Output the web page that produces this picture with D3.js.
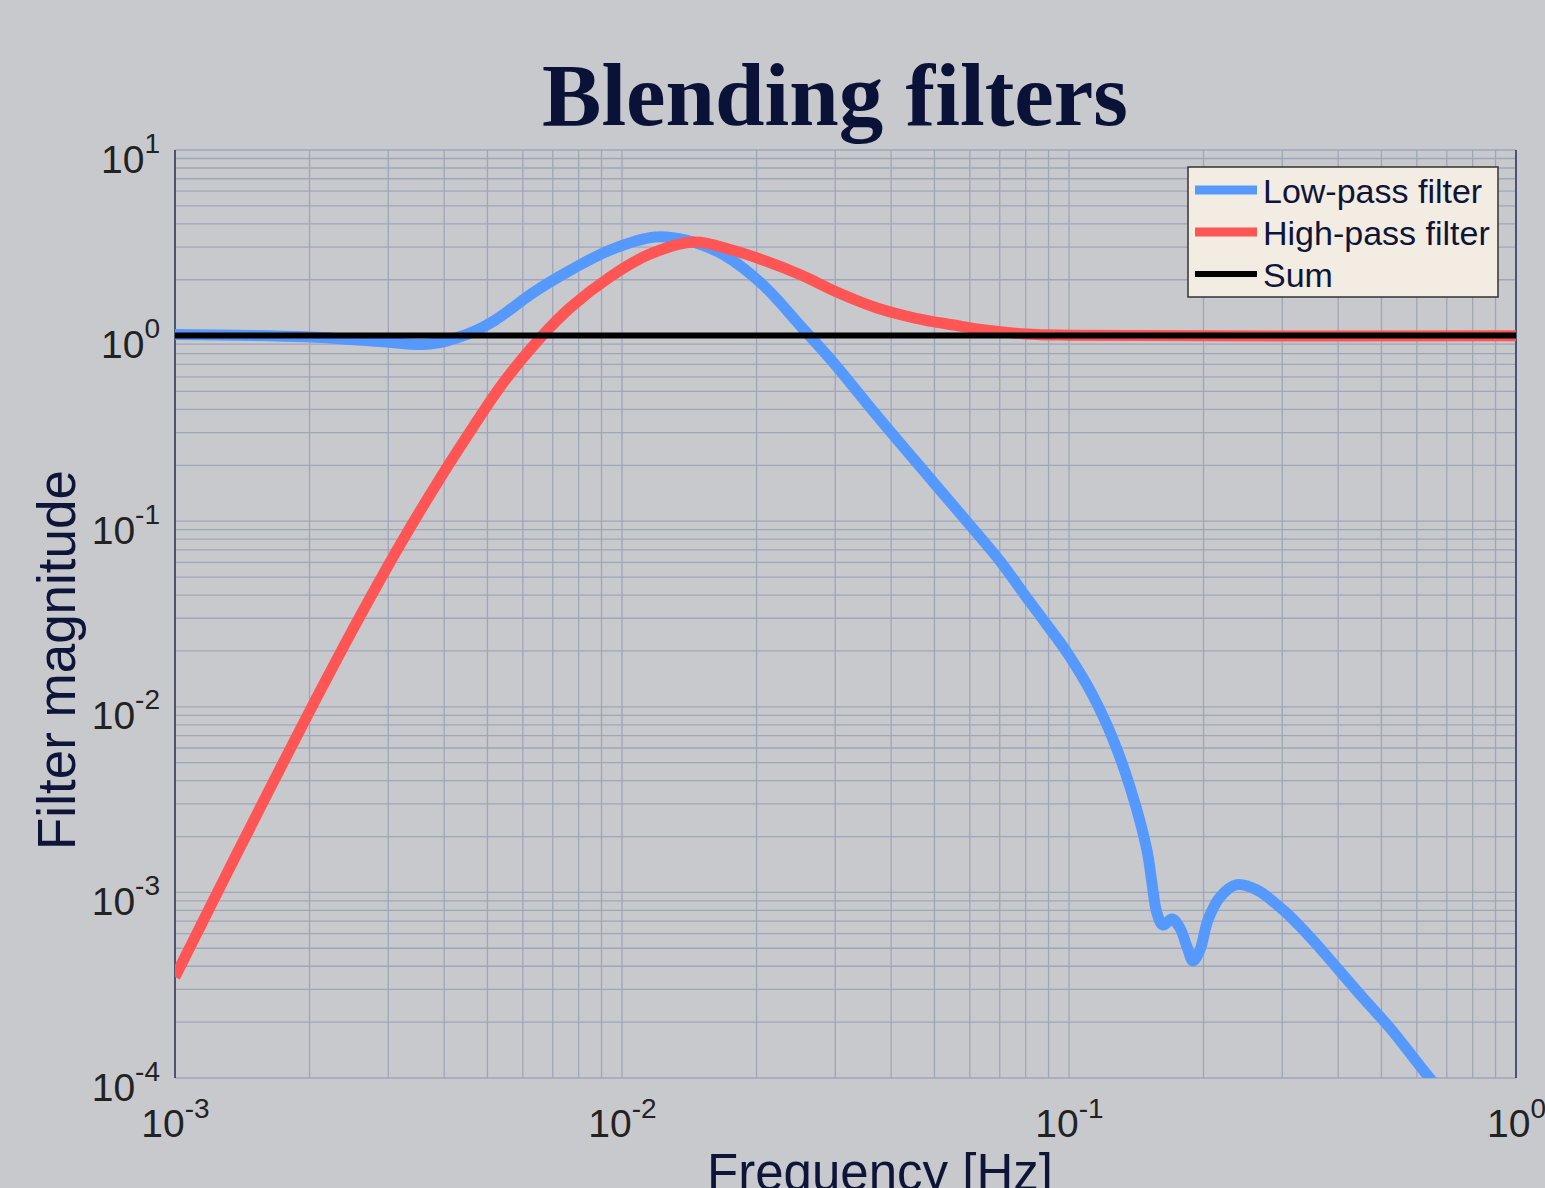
<!DOCTYPE html>
<html>
<head>
<meta charset="utf-8">
<style>
body { margin: 0; background: #c8c9cd; }
svg { display: block; }
</style>
</head>
<body>
<svg id="chart"></svg>
<script src="https://d3js.org/d3.v7.min.js"></script>
<script>
WIDTH = 1545
HEIGHT = 1188
MARGIN = {top: 150, right: 29, bottom: 110, left: 175}

// values
lowPassFreq = [0.001, 0.00196, 0.00287, 0.00372, 0.00452, 0.0052, 0.00632, 0.00769, 0.0094, 0.01186,
	0.0139, 0.0169, 0.02065, 0.02515, 0.02965, 0.0372, 0.0497, 0.06, 0.0701, 0.0805,
	0.0897, 0.0995, 0.1132, 0.1254, 0.1369, 0.1494, 0.1533, 0.1573, 0.1623,
	0.17, 0.1771, 0.1837, 0.1894, 0.1963, 0.2046, 0.2177, 0.2375, 0.2634, 0.3012,
	0.346, 0.3977, 0.4546, 0.5225, 0.6324, 0.6937]
lowPassMag = [1.015, 0.985, 0.93, 0.9, 1.02, 1.21, 1.7, 2.26, 2.89, 3.4,
	3.27, 2.72, 1.88, 1.12, 0.72, 0.37, 0.1625, 0.0954, 0.061, 0.0386,
	0.0272, 0.01925, 0.01143, 0.0067, 0.0037, 0.00169, 0.001125, 0.000774, 0.000667,
	0.000719, 0.000643, 0.000508, 0.000427, 0.000489, 0.00071, 0.000944, 0.0011, 0.00103, 0.000804,
	0.000575, 0.000392, 0.00027, 0.000186, 0.000104, 0.00008]

highPassFreq = [0.001, 0.001155, 0.001376, 0.001632, 0.001934, 0.002304, 0.00273, 0.003236, 0.003856, 0.004571,
	0.005418, 0.00659, 0.00769, 0.0094, 0.01143, 0.0145, 0.01762, 0.02065, 0.02515, 0.03058,
	0.0372, 0.04546, 0.05529, 0.0642, 0.08, 0.1, 0.2, 1]
highPassMag = [0.00035, 0.000699, 0.00162, 0.003635, 0.00809, 0.0181, 0.0385, 0.0794, 0.16, 0.303,
	0.5555, 0.983, 1.426, 2.07, 2.72, 3.19, 2.89, 2.555, 2.12, 1.696,
	1.408, 1.24, 1.14, 1.075, 1.02, 1.005, 0.997, 0.997]

sumFreq = [0.001, 1]
sumMag = [1, 1]

xDecades = [0.001, 0.01, 0.1, 1]
yDecades = [0.0001, 0.001, 0.01, 0.1, 1, 10]

legendNames = ['Low-pass filter', 'High-pass filter', 'Sum']
seriesColors = ['#5599ff', '#ff5555', '#000000']
seriesWidths = [11, 11, 6]

var innerW = WIDTH - MARGIN.left - MARGIN.right
var innerH = HEIGHT - MARGIN.top - MARGIN.bottom

var svg = d3.select('#chart')
	.attr('width', WIDTH)
	.attr('height', HEIGHT)

svg.append('rect')
	.attr('width', WIDTH)
	.attr('height', HEIGHT)
	.attr('fill', '#c8c9cd')

var x = d3.scaleLog().domain([0.001, 1]).range([0, innerW])
var y = d3.scaleLog().domain([0.0001, 10]).range([innerH, 0])

var g = svg.append('g')
	.attr('transform', 'translate(' + MARGIN.left + ',' + MARGIN.top + ')')

// grid, every 1..9 of each decade
function minorTicks(decades) {
	var out = []
	decades.slice(0, -1).forEach(function(d) {
		for (var k = 1; k < 10; k++) out.push(d * k)
	})
	out.push(decades[decades.length - 1])
	return out
}

g.append('g').selectAll('line')
	.data(minorTicks(xDecades))
	.join('line')
	.attr('x1', function(d){ return x(d) })
	.attr('x2', function(d){ return x(d) })
	.attr('y1', 0)
	.attr('y2', innerH)
	.attr('stroke', '#9fa6b8')
	.attr('stroke-width', 1.3)

g.append('g').selectAll('line')
	.data(minorTicks(yDecades))
	.join('line')
	.attr('x1', 0)
	.attr('x2', innerW)
	.attr('y1', function(d){ return y(d) })
	.attr('y2', function(d){ return y(d) })
	.attr('stroke', '#9fa6b8')
	.attr('stroke-width', 1.3)

// left and right frame lines
g.append('line').attr('x1', 0).attr('x2', 0).attr('y1', 0).attr('y2', innerH)
	.attr('stroke', '#4c5272').attr('stroke-width', 2)
g.append('line').attr('x1', innerW).attr('x2', innerW).attr('y1', 0).attr('y2', innerH)
	.attr('stroke', '#4c5272').attr('stroke-width', 2)

// tick labels as 10^n
function powerLabel(sel, supDy) {
	sel.text(null)
	sel.append('tspan').text('10')
	sel.append('tspan')
		.attr('dy', supDy)
		.attr('font-size', 28)
		.text(function(d){ return Math.round(Math.log10(d)) })
}

var xAxis = g.append('g')
	.attr('transform', 'translate(0,' + innerH + ')')
	.call(d3.axisBottom(x).tickValues(xDecades).tickSize(0).tickPadding(0))
xAxis.select('.domain').remove()
xAxis.selectAll('.tick text')
	.attr('y', 59)
	.attr('dy', null)
	.attr('font-family', 'Liberation Sans, Arial, sans-serif')
	.attr('font-size', 39)
	.attr('fill', '#222222')
	.call(powerLabel, -19)

var yAxis = g.append('g')
	.call(d3.axisLeft(y).tickValues(yDecades).tickSize(0).tickPadding(0))
yAxis.select('.domain').remove()
yAxis.selectAll('.tick text')
	.attr('x', -15)
	.attr('dy', 22)
	.attr('font-family', 'Liberation Sans, Arial, sans-serif')
	.attr('font-size', 39)
	.attr('fill', '#222222')
	.call(powerLabel, -20)

// curves
svg.append('defs').append('clipPath').attr('id', 'plotClip')
	.append('rect').attr('width', innerW).attr('height', innerH)

var line = d3.line()
	.x(function(d){ return x(d[0]) })
	.y(function(d){ return y(d[1]) })
	.curve(d3.curveCatmullRom.alpha(0.5))

var series = [
	d3.zip(lowPassFreq, lowPassMag),
	d3.zip(highPassFreq, highPassMag),
	d3.zip(sumFreq, sumMag)
]

g.append('g').attr('clip-path', 'url(#plotClip)')
	.selectAll('path')
	.data(series)
	.join('path')
	.attr('d', line)
	.attr('fill', 'none')
	.attr('stroke', function(d, i){ return seriesColors[i] })
	.attr('stroke-width', function(d, i){ return seriesWidths[i] })
	.attr('stroke-linejoin', 'round')

// legend
var legend = svg.append('g').attr('transform', 'translate(1188,167)')
legend.append('rect')
	.attr('width', 310)
	.attr('height', 130)
	.attr('fill', '#f2ece2')
	.attr('stroke', '#333333')
	.attr('stroke-width', 1.5)

var item = legend.selectAll('.item')
	.data(legendNames)
	.join('g')
	.attr('transform', function(d, i){ return 'translate(0,' + (23 + i * 42) + ')' })

item.append('line')
	.attr('x1', 7).attr('x2', 69)
	.attr('stroke', function(d, i){ return seriesColors[i] })
	.attr('stroke-width', function(d, i){ return i == 2 ? 6 : 9 })

item.append('text')
	.attr('x', 75)
	.attr('y', 13)
	.attr('font-family', 'Liberation Sans, Arial, sans-serif')
	.attr('font-size', 34)
	.attr('fill', '#0e1538')
	.text(function(d){ return d })

// title and axis titles
svg.append('text')
	.attr('x', 835)
	.attr('y', 125)
	.attr('text-anchor', 'middle')
	.attr('font-family', 'Liberation Serif, Times New Roman, serif')
	.attr('font-weight', 'bold')
	.attr('font-size', 89)
	.attr('fill', '#0b1238')
	.text('Blending filters')

svg.append('text')
	.attr('x', 880)
	.attr('y', 1190)
	.attr('text-anchor', 'middle')
	.attr('font-family', 'Liberation Sans, Arial, sans-serif')
	.attr('font-size', 51)
	.attr('fill', '#0e1538')
	.text('Frequency [Hz]')

svg.append('text')
	.attr('transform', 'translate(75,660) rotate(-90)')
	.attr('text-anchor', 'middle')
	.attr('font-family', 'Liberation Sans, Arial, sans-serif')
	.attr('font-size', 53)
	.attr('fill', '#0e1538')
	.text('Filter magnitude')
</script>
</body>
</html>
